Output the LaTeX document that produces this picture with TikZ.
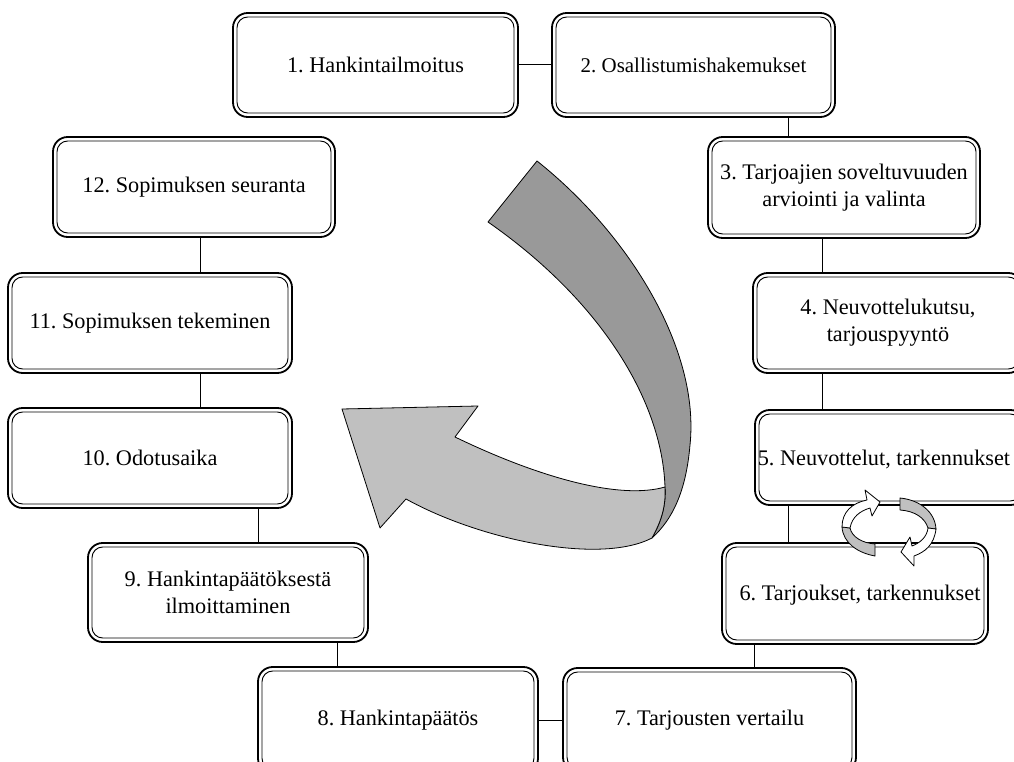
\documentclass[tikz,border=0pt]{standalone}
\usepackage{fontspec}
\setmainfont{Liberation Serif}
\usetikzlibrary{calc}
\definecolor{darkrib}{HTML}{999999}
\definecolor{lightrib}{HTML}{C0C0C0}
\newcommand\pbox[6]{\node[box, minimum width=#4*0.75pt, minimum height=#5*0.75pt] (#1) at (#2,#3) {#6};}
\frenchspacing
\begin{document}
\begin{tikzpicture}[x=0.75pt,y=-0.75pt,
  box/.style={draw=black, line width=1.35pt, fill=white, rounded corners=11pt, inner sep=0pt, outer sep=0pt, align=center, font=\fontsize{16.7}{20.5}\selectfont},
  innerline/.style={draw=black, line width=0.7pt, rounded corners=8pt},
  conn/.style={draw=black, line width=0.75pt},
  txt/.style={font=\fontsize{16.7}{20.5}\selectfont, inner sep=0pt},
  ribbon/.style={draw=black, line width=0.6pt, line join=round}]
\useasboundingbox (0,0) rectangle (1014,762);
\clip (0,0) rectangle (1014,762);
% connector x positions
\coordinate (x23) at (788,0);
\coordinate (x34) at (822,0);
\coordinate (x56) at (788,0);
\coordinate (x67) at (754,0);
\coordinate (x89) at (337,0);
\coordinate (x910) at (258,0);
\coordinate (x1011) at (200,0);
% boxes
\pbox{n1}{375.5}{65}{285}{104}{1. Hankintailmoitus}
\node[box, font=\fontsize{15.7}{19.5}\selectfont, minimum width=283*0.75pt, minimum height=104*0.75pt] (n2) at (693.5,65) {2. Osallistumishakemukset};
\pbox{n3}{844}{187.5}{272}{101}{3. Tarjoajien soveltuvuuden\\arviointi ja valinta}
\pbox{n4}{888}{323}{270}{100}{4. Neuvottelukutsu,\\tarjouspyyntö}
\pbox{n5}{890}{457.5}{270}{95}{}
\pbox{n6}{855}{593.5}{266}{101}{}
\pbox{n7}{709.5}{720}{293}{104}{7. Tarjousten vertailu}
\pbox{n8}{398}{720}{280}{106}{8. Hankintapäätös}
\pbox{n9}{228}{592.5}{280}{99}{9. Hankintapäätöksestä\\ilmoittaminen}
\pbox{n10}{150}{458}{284}{100}{10. Odotusaika}
\pbox{n11}{150}{323}{284}{100}{11. Sopimuksen tekeminen}
\pbox{n12}{194}{187}{282}{100}{12. Sopimuksen seuranta}
\foreach \n in {n1,n2,n3,n4,n5,n6,n7,n8,n9,n10,n11,n12}
  \draw[innerline] ($(\n.north west)+(4,4)$) rectangle ($(\n.south east)+(-4,-4)$);
\node[txt] (t5) at (884,459) {5. Neuvottelut, tarkennukset};
\node[txt] (t6) at (860,595) {6. Tarjoukset, tarkennukset};
% connectors
\draw[conn] (n1.east) -- (n2.west);
\draw[conn] (n2.south -| x23) -- (n3.north -| x23);
\draw[conn] (n3.south -| x34) -- (n4.north -| x34);
\draw[conn] (n4.south -| x34) -- (n5.north -| x34);
\draw[conn] (n5.south -| x56) -- (n6.north -| x56);
\draw[conn] (n6.south -| x67) -- (n7.north -| x67);
\draw[conn] (n7.west) -- (n8.east);
\draw[conn] (n8.north -| x89) -- (n9.south -| x89);
\draw[conn] (n9.north -| x910) -- (n10.south -| x910);
\draw[conn] (n10.north -| x1011) -- (n11.south -| x1011);
\draw[conn] (n11.north -| x1011) -- (n12.south -| x1011);
% big curved arrow
\path[ribbon, fill=darkrib] (537,161) .. controls (630,235) and (700,350) .. (690,445)
  .. controls (686,492) and (672,520) .. (652,538)
  .. controls (662,520) and (666,505) .. (665,487)
  .. controls (662,400) and (600,300) .. (488,222) -- cycle;
\path[ribbon, fill=lightrib] (665,487) .. controls (620,500) and (540,478) .. (455,437)
  -- (478,406) -- (342,409) -- (380,528) -- (406,499)
  .. controls (480,540) and (600,565) .. (652,538)
  .. controls (662,520) and (666,505) .. (665,487) -- cycle;
% small cycle arrows
\path[ribbon, fill=lightrib] (842,527) .. controls (843,543) and (858,553) .. (875,556)
  -- (875,544) .. controls (862,543) and (852,537) .. (850,528) -- cycle;
\path[ribbon, fill=white] (842,527) .. controls (842,512) and (852,503) .. (867,500)
  -- (865,490) -- (880,502) -- (872,516) -- (870,508)
  .. controls (860,511) and (852,517) .. (850,528) -- cycle;
\path[ribbon, fill=lightrib] (900,498) -- (900,510) .. controls (915,511) and (925,518) .. (928,528)
  -- (936,529) .. controls (935,512) and (920,500) .. (900,498) -- cycle;
\path[ribbon, fill=white] (936,529) .. controls (934,545) and (925,552) .. (914,556)
  -- (914,566) -- (901,552) -- (910,537) -- (912,546)
  .. controls (920,543) and (927,537) .. (928,528) -- cycle;
\end{tikzpicture}
\end{document}
